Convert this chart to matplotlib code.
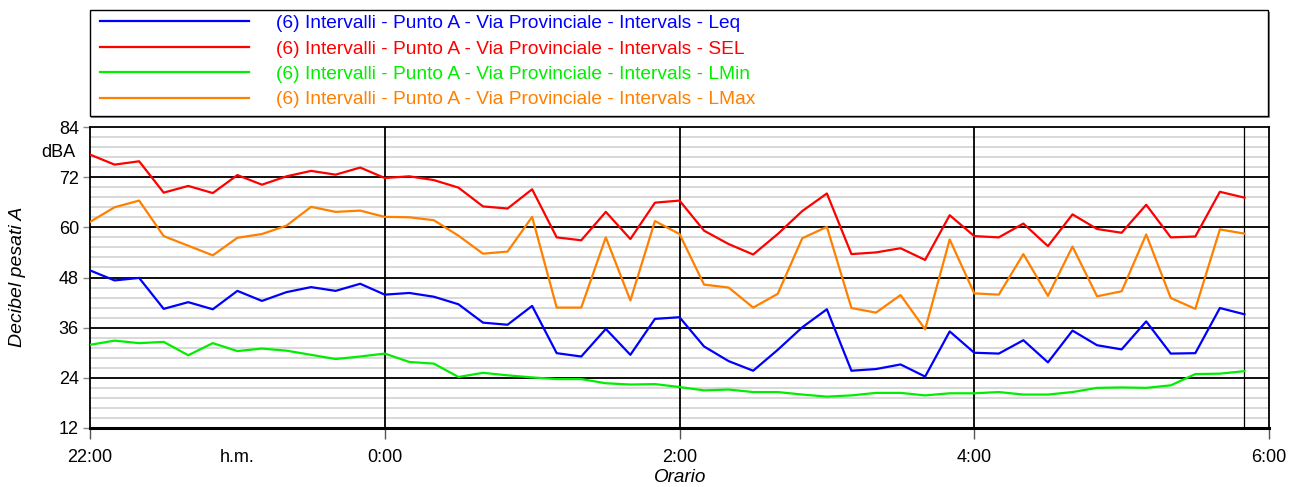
import numpy as np
import matplotlib
matplotlib.use("Agg")
import matplotlib.pyplot as plt
import matplotlib.transforms as mtransforms
from matplotlib.patches import Rectangle

plt.rcParams['font.family'] = ['Liberation Sans', 'DejaVu Sans']

# ---- data (10-minute intervals starting 22:00) ----
leq = [49.7, 47.3, 47.9, 40.5, 42.1, 40.4, 44.8, 42.4, 44.5, 45.7, 44.8, 46.5,
       43.9, 44.3, 43.4, 41.6, 37.2, 36.7, 41.2, 29.9, 29.1, 35.7, 29.5, 38.1,
       38.5, 31.5, 28.0, 25.7, 30.7, 36.1, 40.4, 25.7, 26.1, 27.2, 24.3, 35.1,
       30.0, 29.8, 33.0, 27.7, 35.3, 31.8, 30.8, 37.5, 29.8, 29.9, 40.7, 39.2]
sel = [77.4, 75.0, 75.8, 68.3, 69.9, 68.2, 72.5, 70.2, 72.2, 73.5, 72.6, 74.3,
       71.8, 72.2, 71.3, 69.5, 65.0, 64.5, 69.1, 57.6, 56.9, 63.7, 57.2, 65.9,
       66.4, 59.2, 56.0, 53.5, 58.4, 63.9, 68.1, 53.6, 54.0, 55.0, 52.2, 62.9,
       57.9, 57.6, 60.9, 55.5, 63.1, 59.6, 58.7, 65.4, 57.6, 57.8, 68.5, 67.1]
lmin = [31.9, 32.9, 32.3, 32.6, 29.4, 32.3, 30.4, 31.0, 30.5, 29.5, 28.5, 29.1,
        29.8, 27.8, 27.4, 24.2, 25.2, 24.6, 24.1, 23.7, 23.7, 22.7, 22.4, 22.5,
        21.8, 21.0, 21.2, 20.6, 20.6, 20.0, 19.5, 19.8, 20.4, 20.4, 19.8, 20.3,
        20.3, 20.6, 20.0, 20.0, 20.6, 21.6, 21.7, 21.6, 22.2, 24.9, 25.0, 25.6]
lmax = [61.3, 64.8, 66.4, 57.9, 55.6, 53.3, 57.5, 58.4, 60.4, 64.9, 63.7, 64.0,
        62.5, 62.4, 61.7, 58.0, 53.7, 54.2, 62.5, 40.8, 40.8, 57.6, 42.5, 61.5,
        58.4, 46.3, 45.6, 40.8, 44.1, 57.4, 60.1, 40.7, 39.6, 43.8, 35.6, 57.1,
        44.2, 43.9, 53.6, 43.6, 55.4, 43.5, 44.7, 58.3, 43.1, 40.5, 59.5, 58.5]

series_names = [
    "(6) Intervalli - Punto A - Via Provinciale - Intervals - Leq",
    "(6) Intervalli - Punto A - Via Provinciale - Intervals - SEL",
    "(6) Intervalli - Punto A - Via Provinciale - Intervals - LMin",
    "(6) Intervalli - Punto A - Via Provinciale - Intervals - LMax",
]
series_colors = ["#0000ff", "#ff0000", "#00ee00", "#ff8000"]

x_tick_minutes = [0, 60, 120, 240, 360, 480]
x_tick_labels = ["22:00", "h.m.", "0:00", "2:00", "4:00", "6:00"]
y_ticks = [12, 24, 36, 48, 60, 72, 84]

# minutes from 22:00
minutes = np.arange(len(leq)) * 10

W, H = 1295, 487
fig = plt.figure(figsize=(W / 100, H / 100), dpi=100)
ax = fig.add_axes([90 / W, 1 - 428 / H, (1269 - 90) / W, (428 - 127) / H])

# grid
minor = np.arange(12, 84.01, 2.4)
for v in minor:
    ax.axhline(v, color="#d2d2d2", lw=1.2, zorder=1)
for v in y_ticks[1:-1]:
    ax.axhline(v, color="black", lw=1.3, zorder=2)
for m in [120, 240, 360]:
    ax.axvline(m, color="black", lw=1.3, zorder=2)
ax.axvline(minutes[-1], color="black", lw=0.9, zorder=2)

data = [leq, sel, lmin, lmax]
handles = []
for vals, name, col in zip(data, series_names, series_colors):
    h, = ax.plot(minutes, vals, color=col, lw=1.6, label=name, zorder=3)
    handles.append(h)

ax.set_xlim(0, 480)
ax.set_ylim(12, 84)
ax.set_yticks(y_ticks)
ax.set_xticks(x_tick_minutes)
ax.set_xticklabels(x_tick_labels)
ax.tick_params(axis='x', length=8, width=1, color='#555555', pad=7, labelsize=13)
ax.tick_params(axis='y', length=5, width=1, color='#888888', pad=3, labelsize=13)
ax.xaxis.get_major_ticks()[1].tick1line.set_visible(False)
for s in ax.spines.values():
    s.set_color('black')
    s.set_linewidth(1.3)
ax.spines['bottom'].set_linewidth(2.2)

trans_y = mtransforms.blended_transform_factory(ax.transAxes, ax.transData)
ax.text(-0.012, 78.0, "dBA", transform=trans_y, ha='right', va='center', fontsize=13)

fig.text(18 / W, 1 - 277 / H, "Decibel pesati A", rotation=90, ha='center', va='center',
         fontsize=14, style='italic')
fig.text(680 / W, 1 - 477 / H, "Orario", ha='center', va='center', fontsize=13.6, style='italic')

# legend box
fig.patches.append(Rectangle((91 / W, 1 - 118 / H), (1269 - 90) / W, (116 - 10) / H,
                             transform=fig.transFigure, facecolor='#888888', edgecolor='none', zorder=0))
fig.patches.append(Rectangle((90 / W, 1 - 116 / H), (1268 - 90) / W, (116 - 10) / H,
                             transform=fig.transFigure, facecolor='white', edgecolor='black',
                             lw=1.0, zorder=1))
leg = fig.legend(handles=handles, loc='upper left', bbox_to_anchor=(92 / W, 1 - 7 / H),
                 frameon=False, fontsize=13.8, handlelength=7.8, handletextpad=1.4,
                 labelspacing=0.42, borderaxespad=0)
for t, c in zip(leg.get_texts(), series_colors):
    t.set_color(c)

fig.savefig("out.png", dpi=100)
